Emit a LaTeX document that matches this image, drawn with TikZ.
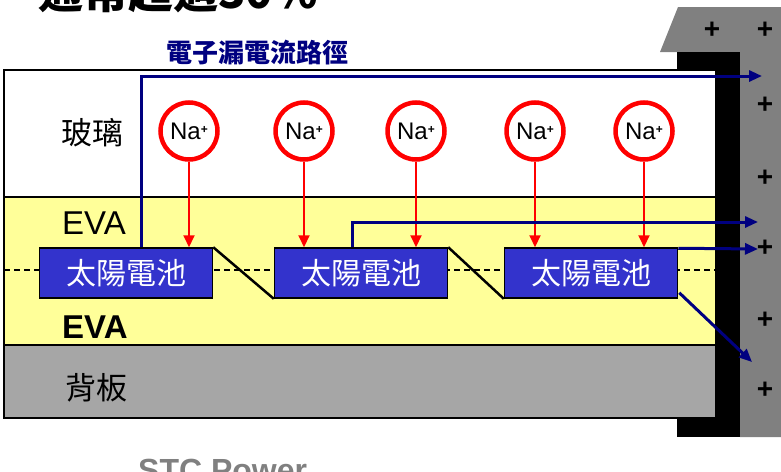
\documentclass[tikz,border=0pt]{standalone}
\usepackage{fontspec}
\setmainfont{Liberation Sans}
\newfontfamily\cjk{Noto Sans CJK TC}
\usetikzlibrary{arrows.meta,calc}
\definecolor{evay}{HTML}{FFFF99}
\definecolor{backg}{HTML}{A6A6A6}
\definecolor{frameg}{HTML}{808080}
\definecolor{cellb}{HTML}{3333CC}
\definecolor{navyc}{HTML}{000080}
\definecolor{redc}{HTML}{FF0000}
\tikzset{
  layer/.style={draw=black,line width=1.5pt},
  cellbox/.style={rectangle,draw=black,line width=1.5pt,fill=cellb,text=white,
    minimum width=173pt,minimum height=50pt,inner sep=0pt,
    font=\cjk\fontsize{30}{31}\selectfont},
  ion/.style={circle,draw=redc,line width=4.5pt,fill=white,minimum size=57pt,inner sep=0pt,
    font=\fontsize{24}{25}\selectfont},
  naarrow/.style={draw=redc,line width=2pt,-{Triangle[length=12pt,width=11pt]}},
  eline/.style={draw=navyc,line width=3pt,-{Triangle[length=13pt,width=11pt]}},
  plus/.style={font=\bfseries\fontsize{28}{28}\selectfont,inner sep=0pt},
  layerlabel/.style={font=\cjk\fontsize{31}{32}\selectfont,inner sep=0pt},
  evalabel/.style={font=\fontsize{33}{34}\selectfont,inner sep=0pt},
}
\begin{document}
\begin{tikzpicture}[x=1pt,y=-1pt]
\useasboundingbox (0,0) rectangle (781,471);
% top cut-off title
\node[anchor=base west,inner sep=0pt,font=\cjk\bfseries\fontsize{45}{46}\selectfont] (title) at (38,9) {通常超過30\%};
% frame
\fill[frameg] (678,7) -- (781,7) -- (781,437) -- (740,437) -- (740,52) -- (660,52) -- cycle;
\fill[black] (677,52) rectangle (740,437);
% panel layers
\filldraw[layer,fill=white] (4,70) rectangle (716,197);
\filldraw[layer,fill=evay] (4,197) rectangle (716,345);
\filldraw[layer,fill=backg] (4,345) rectangle (716,418);
% dashed line
\draw[black,line width=1.2pt,dash pattern=on 6pt off 4pt] (4,270) -- (716,270);
% labels
\node[layerlabel] (glass) at (92,133) {玻璃};
\node[evalabel,anchor=west] (eva1) at (62,223) {EVA};
\node[evalabel,anchor=west,font=\bfseries\fontsize{33}{34}\selectfont] (eva2) at (62,327) {EVA};
\node[layerlabel] (back) at (96,388) {背板};
% cells
\node[cellbox] (c1) at (126,273) {太陽電池};
\node[cellbox] (c2) at (361,273) {太陽電池};
\node[cellbox] (c3) at (591,273) {太陽電池};
\draw[black,line width=2.5pt] (c1.north east) -- (c2.south west);
\draw[black,line width=2.5pt] (c2.north east) -- (c3.south west);
% ions
\node[ion] (n1) at (189,131) {Na\raisebox{6pt}{\fontsize{12}{12}\selectfont\bfseries +}};
\node[ion] (n2) at (304,131) {Na\raisebox{6pt}{\fontsize{12}{12}\selectfont\bfseries +}};
\node[ion] (n3) at (416,131) {Na\raisebox{6pt}{\fontsize{12}{12}\selectfont\bfseries +}};
\node[ion] (n4) at (535,131) {Na\raisebox{6pt}{\fontsize{12}{12}\selectfont\bfseries +}};
\node[ion] (n5) at (644,131) {Na\raisebox{6pt}{\fontsize{12}{12}\selectfont\bfseries +}};
\draw[naarrow] (n1.south) -- (n1.south |- c1.north);
\draw[naarrow] (n2.south) -- (n2.south |- c2.north);
\draw[naarrow] (n3.south) -- (n3.south |- c2.north);
\draw[naarrow] (n4.south) -- (n4.south |- c3.north);
\draw[naarrow] (n5.south) -- (n5.south |- c3.north);
% electron leakage paths
\coordinate (t1) at (762,76);
\coordinate (t2) at (758,222);
\coordinate (t3) at (758,249);
\coordinate (t4) at (752,362);
\draw[eline] ($(c1.north west)+(103,0)$) |- (t1);
\draw[eline] ($(c2.north west)+(79,0)$) |- (t2);
\draw[eline] ($(c3.north east)+(0,1)$) -- (t3);
\draw[eline] ($(c3.south east)+(1,-6)$) -- (t4);
\node[inner sep=0pt,text=navyc,font=\cjk\bfseries\fontsize{26}{27}\selectfont] (lbl) at (257,53) {電子漏電流路徑};
% plus signs
\node[plus] (p1) at (712,30) {+};
\node[plus] (p2) at (765,30) {+};
\node[plus] (p3) at (765,105) {+};
\node[plus] (p4) at (765,178) {+};
\node[plus] (p5) at (765,248) {+};
\node[plus] (p6) at (765,320) {+};
\node[plus] (p7) at (765,390) {+};
% bottom cut-off text
\node[anchor=base west,inner sep=0pt,text=frameg,font=\bfseries\fontsize{32}{33}\selectfont] (stc) at (138,481) {STC Power};
\end{tikzpicture}
\end{document}
